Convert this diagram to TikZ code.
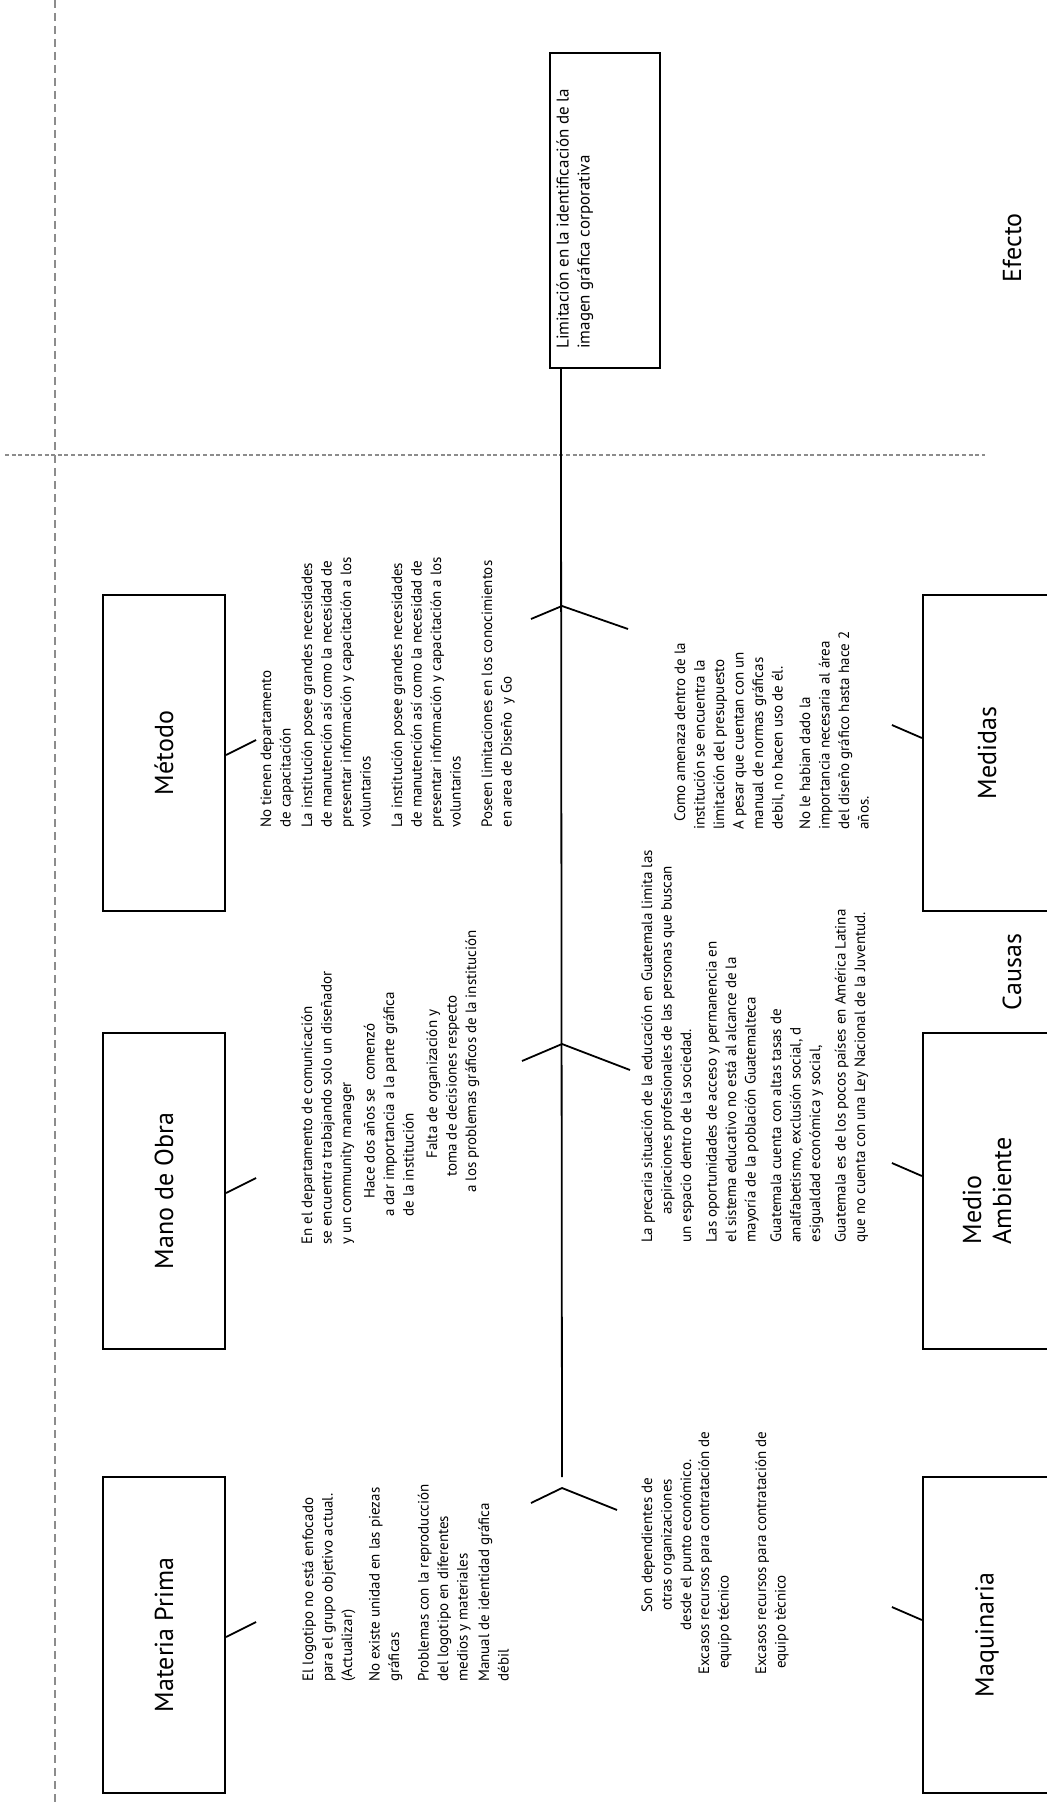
\documentclass[tikz,border=0pt]{standalone}
\usepackage{fontspec}
\setmainfont{PT Sans}
\usetikzlibrary{positioning,calc}

\begin{document}
\begin{tikzpicture}[x=0.5pt, y=-0.5pt,
  catbox/.style={draw, line width=1.1pt, rotate=90, inner sep=0pt, align=left,
    minimum width=158pt, minimum height=61pt, font=\fontsize{13}{15}\selectfont},
  effbox/.style={draw, line width=1.1pt, rotate=90, inner sep=0pt,
    minimum width=157.5pt, minimum height=55pt},
  notes/.style={rotate=90, anchor=north west, align=left, inner sep=0pt,
    font=\fontsize{7.5}{9.75}\selectfont},
  head/.style={rotate=90, inner sep=0pt, font=\fontsize{13}{15}\selectfont},
  guide/.style={draw=black!45, line width=0.6pt, dash pattern=on 4pt off 2.5pt},
  bone/.style={line width=0.9pt}]
\useasboundingbox (0,0) rectangle (1047,1808);
% dashed guides
\coordinate (gtop) at (55,0);
\coordinate (gbot) at (55,1805);
\coordinate (hl) at (5,455);
\coordinate (hr) at (985,455);
\draw[guide] (gtop) -- (gbot);
\draw[guide, dash pattern=on 2pt off 1.3pt] (hl) -- (hr);
\node[head] (efecto) at (1012,248) {Efecto};
\node[head] (causas) at (1012,972) {Causas};
% effect
\node[effbox] (eff) at (605,210.5) {};
\node[notes, font=\fontsize{8.5}{10.5}\selectfont] (efftxt) at ($(eff.north west)+(7,-20)$)
  {Limitación en la identificación de la\\imagen gráfica corporativa};
% spine and bones
\coordinate (tail) at (562,1477);
\draw[bone] ($(eff.north west)+(12,0)$) -- (tail);
\coordinate (j1) at (562,606);
\coordinate (j2) at (562,1044);
\coordinate (j3) at (562,1488);
\draw[bone] ($(j1)+(-31,13)$) -- (j1) -- ++(66,23);
\draw[bone] ($(j2)+(-40,17)$) -- (j2) -- ++(68,26);
\draw[bone] ($(j3)+(-31,15)$) -- (j3) -- ++(55,22);
% categories
\node[catbox] (met) at (164,753) {Método};
\node[catbox] (mano) at (164,1191) {Mano de Obra};
\node[catbox] (mat) at (164,1635) {Materia Prima};
\node[catbox, minimum height=64pt] (med) at (987,753) {Medidas};
\node[catbox, minimum height=64pt] (amb) at (987,1191) {Medio\\Ambiente};
\node[catbox, minimum height=64pt] (maq) at (987,1635) {Maquinaria};
\draw[bone] ($(met.south)+(0,2)$) -- ++(30,-15);
\draw[bone] ($(mano.south)+(0,2)$) -- ++(30,-15);
\draw[bone] ($(mat.south)+(0,2)$) -- ++(30,-15);
\draw[bone] ($(med.north)+(0,-15)$) -- ++(-30,-13);
\draw[bone] ($(amb.north)+(0,-15)$) -- ++(-30,-13);
\draw[bone] ($(maq.north)+(0,-15)$) -- ++(-30,-13);
% notes
\node[notes] (metn) at (260,828) {No tienen departamento\\
  de capacitación\\[1pt]
  La institución posee grandes necesidades\\
  de manutención así como la necesidad de\\
  presentar información y capacitación a los\\
  voluntarios\\[6pt]
  La institución posee grandes necesidades\\
  de manutención así como la necesidad de\\
  presentar información y capacitación a los\\
  voluntarios\\[6pt]
  Poseen limitaciones en los conocimientos\\
  en area de Diseño\ \ y Go};
\node[notes] (manon) at (301,1245) {En el departamento de comunicación\\
  se encuentra trabajando solo un diseñador\\
  y un community manager\\[2pt]
  \hspace*{23pt}Hace dos años se\ \ comenzó\\
  \hspace*{14pt}a dar importancia a la parte gráfica\\
  \hspace*{14pt}de la institución\\[2pt]
  \hspace*{43pt}Falta de organización y\\
  \hspace*{34pt}toma de decisiones respecto\\
  \hspace*{26pt}a los problemas gráficos de la institución};
\node[notes] (matn) at (302,1682) {El logotipo no está enfocado\\
  para el grupo objetivo actual.\\
  (Actualizar)\\[4pt]
  No existe unidad en las piezas\\
  gráficas\\[5pt]
  Problemas con la reproducción\\
  del logotipo en diferentes\\
  medios y materiales\\[1pt]
  Manual de identidad gráfica\\
  débil};
\node[notes] (medn) at (674,830) {\hspace*{4pt}Como amenaza dentro de la\\
  institución se encuentra la\\
  limitación del presupuesto\\
  A pesar que cuentan con un\\
  manual de normas gráficas\\
  debil, no hacen uso de él.\\[4pt]
  No le habian dado la\\
  importancia necesaria al área\\
  del diseño gráfico hasta hace 2\\
  años.};
\node[notes] (ambn) at (641,1243) {La precaria situación de la educación en Guatemala limita las\\
  \hspace*{14pt}aspiraciones profesionales de las personas que buscan\\
  un espacio dentro de la sociedad.\\[3pt]
  Las oportunidades de acceso y permanencia en\\
  el sistema educativo no está al alcance de la\\
  mayoría de la población Guatemalteca\\[3pt]
  Guatemala cuenta con altas tasas de\\
  analfabetismo, exclusión social, d\\
  esigualdad económica y social,\\[3pt]
  Guatemala es de los pocos países en América Latina\\
  que no cuenta con una Ley Nacional de la Juventud.};
\node[notes, anchor=north, align=center] (maqn) at (641,1545) {Son dependientes de\\
  otras organizaciones\\
  desde el punto económico.};
\node[notes] (maqn2) at (698,1675) {Excasos recursos para contratación de\\
  \hspace*{3pt}equipo técnico\\[9pt]
  Excasos recursos para contratación de\\
  \hspace*{3pt}equipo tècnico};
\end{tikzpicture}
\end{document}
